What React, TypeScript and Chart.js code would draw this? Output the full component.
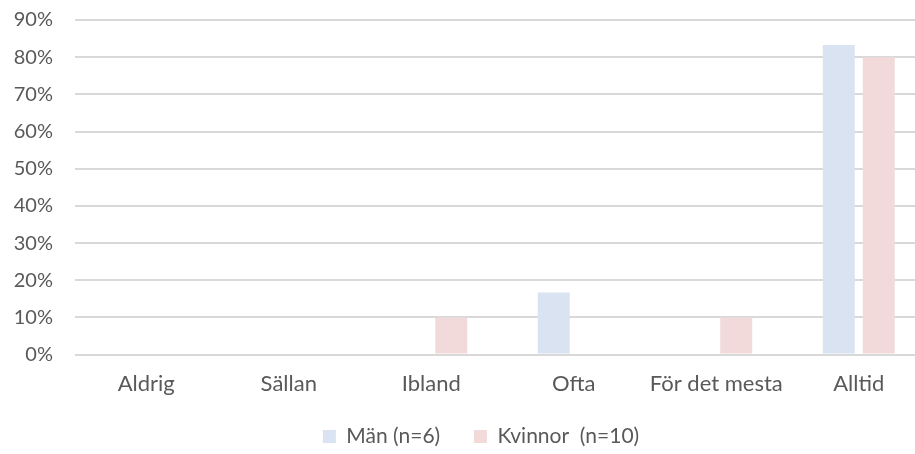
import React, { useEffect, useRef } from "react";
import { Chart, registerables } from "chart.js";

Chart.register(...registerables);

const categories = ["Aldrig", "Sällan", "Ibland", "Ofta", "För det mesta", "Alltid"];
const menValues = [0, 0, 0, 16.7, 0, 83.3];
const womenValues = [0, 0, 10, 0, 10, 80];
const seriesLabels = ["Män (n=6)\u2003", "Kvinnor  (n=10)"];

const legendShift = { id: "legendShift", afterLayout(chart: any) {
  const lg = chart.legend;
  if (!lg) return;
  const dx = 16, dy = 3;
  lg.left += dx; lg.right += dx; lg.top += dy; lg.bottom += dy;
} };

export default function App() {
  const ref = useRef<HTMLCanvasElement | null>(null);
  useEffect(() => {
    document.body.style.overflow = "hidden";
    const chart = new Chart(ref.current!, {
      type: "bar",
      data: {
        labels: categories,
        datasets: [
          {
            label: seriesLabels[0],
            data: menValues,
            backgroundColor: "#DAE3F1",
            borderWidth: 0,
            categoryPercentage: 0.561,
            barPercentage: 0.8,
          },
          {
            label: seriesLabels[1],
            data: womenValues,
            backgroundColor: "#F2DADA",
            borderWidth: 0,
            categoryPercentage: 0.561,
            barPercentage: 0.8,
          },
        ],
      },
      plugins: [legendShift],
      options: {
        animation: false,
        responsive: false,
        layout: { padding: { top: 0, left: 0, right: 32, bottom: 0 } },
        plugins: {
          tooltip: { enabled: false },
          legend: {
            position: "bottom",
            labels: {
              font: { family: "Lato", size: 21 },
              color: "#595959",
              boxWidth: 13,
              boxHeight: 13,
              padding: 18,
            },
          },
        },
        scales: {
          x: {
            grid: { display: false },
            border: { display: false },
            ticks: { font: { family: "Lato", size: 22 }, color: "#595959", padding: 8, maxRotation: 0 },
          },
          y: {
            min: 0,
            max: 90,
            grid: { color: "#D9D9D9", lineWidth: 2, drawTicks: false },
            border: { display: false },
            afterFit: (axis: any) => {
              axis.width = 75;
              axis.paddingTop = 20;
              axis.paddingBottom = 0;
            },
            ticks: {
              stepSize: 10,
              font: { family: "Lato", size: 20 },
              color: "#595959",
              padding: 22,
              callback: (v: any) => v + "%",
            },
          },
        },
      },
    });
    return () => chart.destroy();
  }, []);
  return (
    <div style={{ position: "absolute", left: 0, top: 0, width: 962, height: 454 }}>
      <canvas ref={ref} width={962} height={454} />
    </div>
  );
}
